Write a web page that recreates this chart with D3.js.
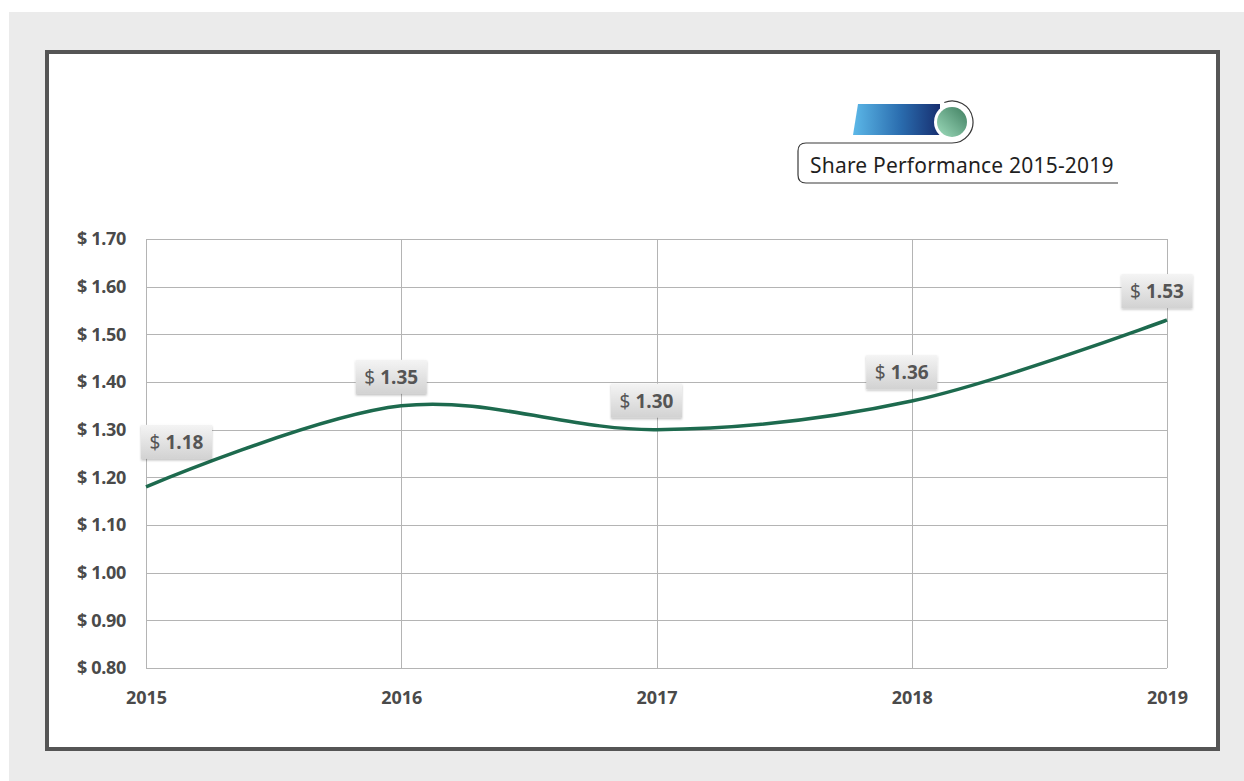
<!DOCTYPE html>
<html lang="en">
<head>
<meta charset="UTF-8">
<title>Share Performance 2015-2019</title>
<script src="https://d3js.org/d3.v7.min.js"></script>
<style>
    body { margin: 0; background: #fff; }
    svg { display: block; font-family: "Noto Sans", sans-serif; }
</style>
</head>
<body>
<div id="chart"></div>
<script>
    // data
    const years = [2015, 2016, 2017, 2018, 2019];
    const prices = [1.18, 1.35, 1.30, 1.36, 1.53];
    const yTicks = [0.8, 0.9, 1.0, 1.1, 1.2, 1.3, 1.4, 1.5, 1.6, 1.7];
    const chartTitle = "Share Performance 2015-2019";

    const width = 1244, height = 781;
    const plot = { left: 146, right: 1167, top: 239, bottom: 668 };

    const svg = d3.select("#chart").append("svg")
        .attr("width", width)
        .attr("height", height);

    const defs = svg.append("defs");

    const blueGrad = defs.append("linearGradient").attr("id", "blueGrad");
    blueGrad.append("stop").attr("offset", "0%").attr("stop-color", "#5cb8e8");
    blueGrad.append("stop").attr("offset", "55%").attr("stop-color", "#2a6cae");
    blueGrad.append("stop").attr("offset", "100%").attr("stop-color", "#172f70");

    const greenGrad = defs.append("linearGradient").attr("id", "greenGrad")
        .attr("x1", "0%").attr("y1", "100%").attr("x2", "100%").attr("y2", "0%");
    greenGrad.append("stop").attr("offset", "0%").attr("stop-color", "#9edcbc");
    greenGrad.append("stop").attr("offset", "100%").attr("stop-color", "#3f7e60");

    const labelGrad = defs.append("linearGradient").attr("id", "labelGrad")
        .attr("x1", 0).attr("y1", 0).attr("x2", 0).attr("y2", 1);
    labelGrad.append("stop").attr("offset", "0%").attr("stop-color", "#f4f4f4");
    labelGrad.append("stop").attr("offset", "100%").attr("stop-color", "#d2d2d2");

    const shadow = defs.append("filter").attr("id", "shadow")
        .attr("x", "-20%").attr("y", "-20%").attr("width", "140%").attr("height", "150%");
    shadow.append("feDropShadow").attr("dx", 0).attr("dy", 1.5)
        .attr("stdDeviation", 1.2).attr("flood-color", "#000").attr("flood-opacity", 0.25);

    // background panel and frame
    svg.append("rect").attr("x", 9).attr("y", 12)
        .attr("width", width - 9).attr("height", height - 12)
        .attr("fill", "#ebebeb");
    svg.append("rect").attr("x", 47).attr("y", 52)
        .attr("width", 1171).attr("height", 697)
        .attr("fill", "#fff").attr("stroke", "#555").attr("stroke-width", 4);

    const x = d3.scaleLinear()
        .domain(d3.extent(years))
        .range([plot.left, plot.right]);
    const y = d3.scaleLinear()
        .domain([0.8, 1.7])
        .range([plot.bottom, plot.top]);

    // gridlines
    const grid = svg.append("g").attr("stroke", "#b4b4b4").attr("stroke-width", 1);
    grid.selectAll(".h").data(yTicks).enter().append("line")
        .attr("x1", plot.left).attr("x2", plot.right)
        .attr("y1", d => Math.round(y(d)) + 0.5).attr("y2", d => Math.round(y(d)) + 0.5);
    grid.selectAll(".v").data(years).enter().append("line")
        .attr("y1", plot.top).attr("y2", plot.bottom)
        .attr("x1", d => Math.round(x(d)) + 0.5).attr("x2", d => Math.round(x(d)) + 0.5);

    // axes
    const yAxis = d3.axisLeft(y).tickValues(yTicks)
        .tickSize(0).tickPadding(20)
        .tickFormat(d => "$ " + d3.format(".2f")(d));
    svg.append("g").attr("transform", `translate(${plot.left},0)`)
        .call(yAxis)
        .call(g => g.select(".domain").remove())
        .selectAll("text")
        .attr("fill", "#4a4a4a").attr("font-size", 18).attr("font-weight", 700)
        .attr("letter-spacing", -0.3)
        .attr("font-family", "'Noto Sans', sans-serif");

    const xAxis = d3.axisBottom(x).tickValues(years)
        .tickSize(0).tickPadding(23)
        .tickFormat(d3.format("d"));
    svg.append("g").attr("transform", `translate(0,${plot.bottom})`)
        .call(xAxis)
        .call(g => g.select(".domain").remove())
        .selectAll("text")
        .attr("fill", "#4a4a4a").attr("font-size", 18).attr("font-weight", 700)
        .attr("font-family", "'Noto Sans', sans-serif");

    // smoothed line
    const line = d3.line()
        .x((d, i) => x(years[i]))
        .y(d => y(d))
        .curve(d3.curveCardinal.tension(0));
    svg.append("path").datum(prices)
        .attr("d", line)
        .attr("fill", "none")
        .attr("stroke", "#1d6a4e")
        .attr("stroke-width", 3.5);

    // data labels
    const labelShift = [[0, -16], [0, 0], [0, 0], [0, 0], [0, 0]];
    const boxW = 71, boxH = 34;
    const labels = svg.selectAll(".lbl").data(prices).enter().append("g")
        .attr("transform", (d, i) => {
            let bx = x(years[i]) - 10 - boxW / 2;
            bx = Math.max(bx, plot.left - 5);
            const by = y(d) - 12 - boxH + labelShift[i][1];
            return `translate(${bx + labelShift[i][0]},${by})`;
        });
    labels.append("rect")
        .attr("width", boxW).attr("height", boxH)
        .attr("fill", "url(#labelGrad)")
        .attr("filter", "url(#shadow)");
    const lt = labels.append("text")
        .attr("x", boxW / 2).attr("y", 24)
        .attr("text-anchor", "middle")
        .attr("fill", "#555")
        .attr("font-size", 19);
    lt.append("tspan").attr("font-weight", 400).text("$ ");
    lt.append("tspan").attr("font-weight", 700).text(d => d3.format(".2f")(d));

    // title badge
    const badge = svg.append("g");
    badge.append("path")
        .attr("d", "M858,104 L940,104 L940,135 L853,135 Z")
        .attr("fill", "url(#blueGrad)");
    const cx = 952, cy = 122, rOut = 21;
    const a0 = -Math.PI * 0.62;
    const sx = cx + rOut * Math.cos(a0), sy = cy + rOut * Math.sin(a0);
    badge.append("path")
        .attr("d", `M${sx},${sy} A${rOut},${rOut} 0 1 1 ${cx},${cy + rOut} L806,${cy + rOut}
                    Q798,${cy + rOut} 798,${cy + rOut + 8} L798,175 Q798,183 806,183 L1118,183`)
        .attr("fill", "none").attr("stroke", "#3a3a3a").attr("stroke-width", 1.2);
    badge.append("circle").attr("cx", cx).attr("cy", cy).attr("r", 18)
        .attr("fill", "#fff");
    badge.append("circle").attr("cx", cx).attr("cy", cy).attr("r", 15)
        .attr("fill", "url(#greenGrad)");
    badge.append("text")
        .attr("x", 810).attr("y", 173)
        .attr("fill", "#1f1f1f")
        .attr("font-size", 21)
        .attr("letter-spacing", 0.2)
        .text(chartTitle);
</script>
</body>
</html>
